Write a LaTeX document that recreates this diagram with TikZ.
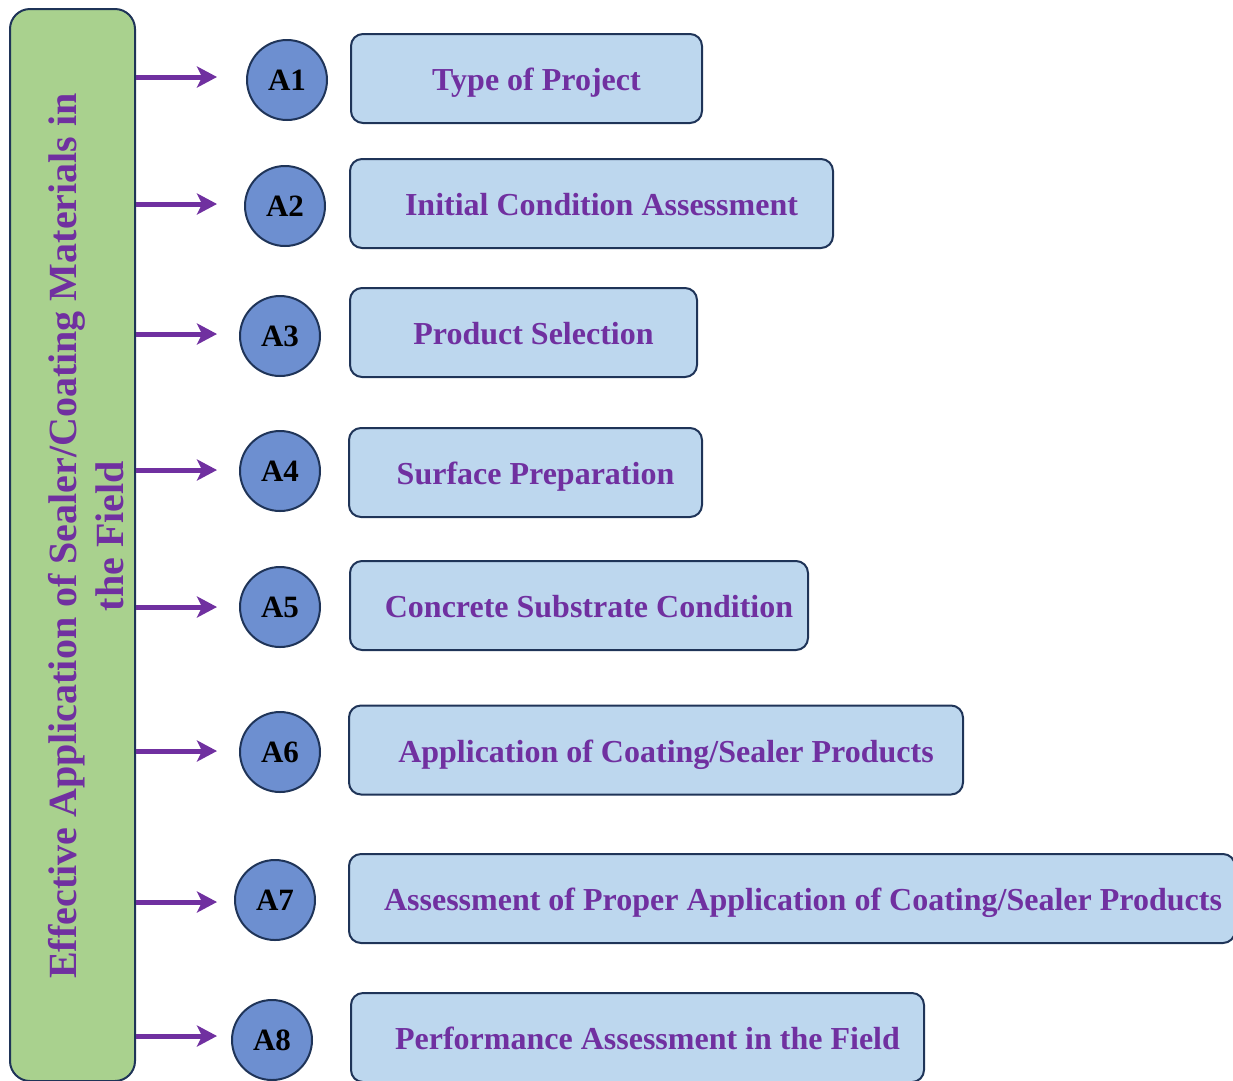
\documentclass[tikz,border=0pt]{standalone}
\usepackage{fontspec}
\setmainfont{Liberation Serif}
\usetikzlibrary{arrows.meta}
\definecolor{navy}{HTML}{1F3458}
\definecolor{leaf}{HTML}{A9D18E}
\definecolor{disc}{HTML}{6D8FD0}
\definecolor{pale}{HTML}{BDD7EE}
\definecolor{vio}{HTML}{7030A0}
\tikzset{
  greenbox/.style={draw=navy, line width=2pt, fill=leaf, rounded corners=20pt, inner sep=0pt},
  disk/.style={circle, draw=navy, line width=2pt, fill=disc, minimum size=80pt, inner sep=0pt,
    font=\fontsize{31}{34}\selectfont\bfseries, text=black},
  stepbox/.style={draw=navy, line width=2pt, fill=pale, rounded corners=12pt, inner sep=0pt, minimum height=89pt},
  lbl/.style={font=\fontsize{32}{36}\selectfont\bfseries, text=vio, inner sep=0pt, anchor=base},
  arr/.style={draw=vio, line width=5pt, -{Stealth[length=20pt, width=21pt, inset=5pt]}},
}
\begin{document}
\begin{tikzpicture}[x=1pt, y=-1pt]
\useasboundingbox (0,0) rectangle (1233,1080);
\begin{scope}
\clip (0,0) rectangle (1233,1080);
\node[greenbox, minimum width=125pt, minimum height=1072pt] (main) at (72.5,545) {};
\node[rotate=90, align=center, font=\fontsize{40}{47}\selectfont\bfseries, text=vio] (title) at (86,536)
  {Effective Application of Sealer/Coating Materials in\\the Field};

% circles
\node[disk] (a1) at (287,80) {A1};
\node[disk] (a2) at (285,206) {A2};
\node[disk] (a3) at (280,336) {A3};
\node[disk] (a4) at (280,471) {A4};
\node[disk] (a5) at (280,607) {A5};
\node[disk] (a6) at (280,752) {A6};
\node[disk] (a7) at (275,900) {A7};
\node[disk] (a8) at (272,1040) {A8};

% arrow ends
\coordinate (t1) at (217,77);
\coordinate (t2) at (217,204);
\coordinate (t3) at (217,334);
\coordinate (t4) at (217,470);
\coordinate (t5) at (217,607);
\coordinate (t6) at (217,751);
\coordinate (t7) at (217,902);
\coordinate (t8) at (217,1036);
\foreach \i in {1,...,8} {\draw[arr] (main.east |- t\i) -- (t\i);}

% boxes
\node[stepbox, minimum width=351pt] (b1) at (526.5,78.5) {};
\node[stepbox, minimum width=483pt] (b2) at (591.5,203.5) {};
\node[stepbox, minimum width=347pt] (b3) at (523.5,332.5) {};
\node[stepbox, minimum width=353pt] (b4) at (525.5,472.5) {};
\node[stepbox, minimum width=458pt] (b5) at (579,605.5) {};
\node[stepbox, minimum width=614pt] (b6) at (656,750) {};
\node[stepbox, minimum width=886pt] (b7) at (792,898.5) {};
\node[stepbox, minimum width=573pt] (b8) at (637.5,1037.5) {};

\node[lbl] (l1) at ([xshift=10pt,yshift=-12pt]b1.center) {Type of Project};
\node[lbl] (l2) at ([xshift=10pt,yshift=-12pt]b2.center) {Initial Condition Assessment};
\node[lbl] (l3) at ([xshift=10pt,yshift=-12pt]b3.center) {Product Selection};
\node[lbl] (l4) at ([xshift=10pt,yshift=-12pt]b4.center) {Surface Preparation};
\node[lbl] (l5) at ([xshift=10pt,yshift=-12pt]b5.center) {Concrete Substrate Condition};
\node[lbl] (l6) at ([xshift=10pt,yshift=-12pt]b6.center) {Application of Coating/Sealer Products};
\node[lbl] (l7) at ([xshift=11pt,yshift=-12pt]b7.center) {Assessment of Proper Application of Coating/Sealer Products};
\node[lbl] (l8) at ([xshift=10pt,yshift=-12pt]b8.center) {Performance Assessment in the Field};
\end{scope}
\end{tikzpicture}
\end{document}
